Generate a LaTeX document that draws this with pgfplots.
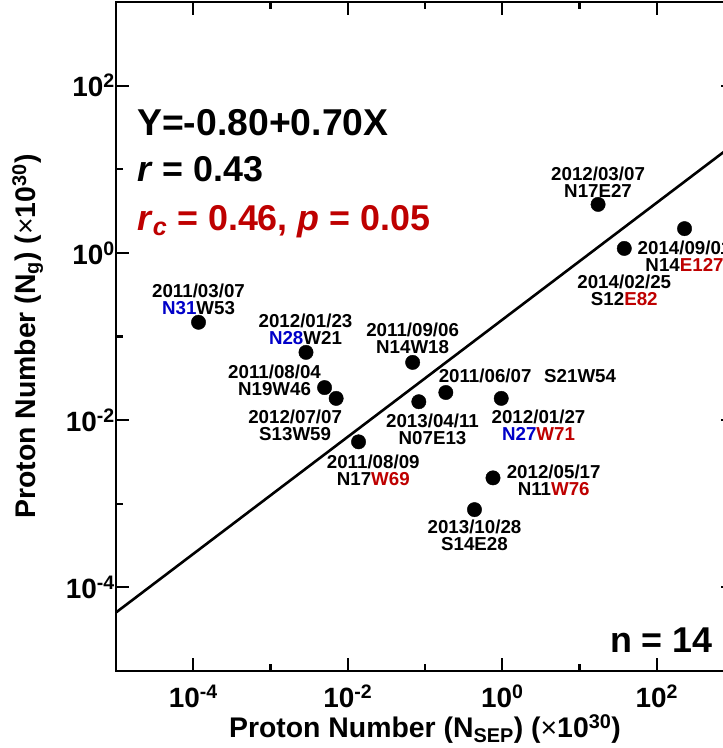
\documentclass[border=0pt]{standalone}
\usepackage{pgfplots}
\pgfplotsset{compat=1.18}
\usepackage{fontspec}
\setmainfont{Liberation Sans}
\definecolor{myred}{RGB}{190,0,0}
\definecolor{myblue}{RGB}{0,0,200}
\newcommand{\labfont}{\fontsize{18.8}{17}\selectfont\bfseries}
\newcommand{\tkfont}{\fontsize{28}{28}\selectfont\bfseries}
\newcommand{\axfont}{\fontsize{28.5}{28.5}\selectfont\bfseries}
\begin{document}
\begin{tikzpicture}
\begin{axis}[
  at={(0,0)}, anchor=south west,
  scale only axis, width=618bp, height=669bp,
  xmode=log, ymode=log,
  xmin=1e-5, xmax=1e3, ymin=1e-5, ymax=1e3,
  axis line style={line width=2.6bp},
  every tick/.style={line width=2.2bp, black},
  tick align=inside,
  major tick length=13bp, minor tick length=7bp,
  xtick={1e-4,1e-2,1,1e2},
  xticklabels={10\textsuperscript{-4},10\textsuperscript{-2},10\textsuperscript{0},10\textsuperscript{2}},
  minor xtick={1e-3,1e-1,1e1},
  ytick={1e-4,1e-2,1,1e2},
  yticklabels={10\textsuperscript{-4},10\textsuperscript{-2},10\textsuperscript{0},10\textsuperscript{2}},
  minor ytick={1e-3,1e-1,1e1},
  xticklabel style={font=\tkfont, inner sep=0pt, yshift=-14bp},
  yticklabel style={font=\tkfont, inner sep=0pt, xshift=-1bp},
  xlabel={Proton Number (N\textsubscript{SEP}) ({\mdseries ×}10\textsuperscript{30})},
  ylabel={Proton Number (N\textsubscript{g}) ({\mdseries ×}10\textsuperscript{30})},
  xlabel style={font=\axfont, at={(axis description cs:0.5,-0.0987)}, anchor=base, inner sep=0pt},
  ylabel style={font=\axfont, at={(axis description cs:-0.131,0.5)}, anchor=base, inner sep=0pt},
  clip=false,
]
\addplot[black, line width=2.6bp] coordinates {(1e-5,5.012e-5) (1e3,19.95)};
\addplot[only marks, mark=*, mark size=7.2bp, black] coordinates {
  (1.17e-4,0.148)
  (2.88e-3,0.0646)
  (5.01e-3,0.0245)
  (7.08e-3,0.0182)
  (0.0138,5.50e-3)
  (0.0692,0.0490)
  (0.0832,0.0166)
  (0.186,0.0214)
  (0.970,0.0182)
  (0.759,2.04e-3)
  (0.437,8.51e-4)
  (17.4,3.80)
  (38.0,1.13)
  (229,1.95)
};
\tikzset{lab/.style={font=\labfont, align=center, inner sep=0pt}}
\node[lab, xshift=0bp, yshift=22.7bp] at (axis cs:1.17e-4,0.148) {2011/03/07\\\textcolor{myblue}{N31}W53};
\node[lab, xshift=-0.5bp, yshift=22.7bp] at (axis cs:2.88e-3,0.0646) {2012/01/23\\\textcolor{myblue}{N28}W21};
\node[lab, xshift=-50bp, yshift=7bp] at (axis cs:5.01e-3,0.0245) {2011/08/04\\N19W46};
\node[lab, xshift=-41bp, yshift=-26.7bp] at (axis cs:7.08e-3,0.0182) {2012/07/07\\S13W59};
\node[lab, xshift=14.7bp, yshift=-28bp] at (axis cs:0.0138,5.50e-3) {2011/08/09\\N17\textcolor{myred}{W69}};
\node[lab, xshift=0bp, yshift=23.7bp] at (axis cs:0.0692,0.0490) {2011/09/06\\N14W18};
\node[lab, xshift=13.7bp, yshift=-27.8bp] at (axis cs:0.0832,0.0166) {2013/04/11\\N07E13};
\node[lab, xshift=39.3bp, yshift=16.7bp] at (axis cs:0.186,0.0214) {2011/06/07};
\node[lab, xshift=134.3bp, yshift=16.7bp] at (axis cs:0.186,0.0214) {S21W54};
\node[lab, xshift=37.3bp, yshift=-26.8bp] at (axis cs:0.970,0.0182) {2012/01/27\\\textcolor{myblue}{N27}\textcolor{myred}{W71}};
\node[lab, xshift=60.7bp, yshift=-2.8bp] at (axis cs:0.759,2.04e-3) {2012/05/17\\N11\textcolor{myred}{W76}};
\node[lab, xshift=0bp, yshift=-26bp] at (axis cs:0.437,8.51e-4) {2013/10/28\\S14E28};
\node[lab, xshift=0bp, yshift=22.5bp] at (axis cs:17.4,3.80) {2012/03/07\\N17E27};
\node[lab, xshift=0bp, yshift=-41.8bp] at (axis cs:38.0,1.13) {2014/02/25\\S12\textcolor{myred}{E82}};
\node[lab, xshift=0bp, yshift=-27.2bp] at (axis cs:229,1.95) {2014/09/01\\N14\textcolor{myred}{E127}};
\node[anchor=base west, inner sep=0pt, font=\fontsize{37.5}{40}\selectfont\bfseries] at (axis description cs:0.034,0.801) {Y=-0.80+0.70X};
\node[anchor=base west, inner sep=0pt, font=\fontsize{36}{40}\selectfont\bfseries] at (axis description cs:0.034,0.731) {\textit{r} = 0.43};
\node[anchor=base west, inner sep=0pt, font=\fontsize{36}{40}\selectfont\bfseries, text=myred] at (axis description cs:0.034,0.659) {\textit{r}\textsubscript{\textit{c}} = 0.46, \textit{p} = 0.05};
\node[anchor=base east, inner sep=0pt, font=\fontsize{36}{40}\selectfont\bfseries] at (axis description cs:0.966,0.0284) {n = 14};
\end{axis}
\pgfresetboundingbox
\useasboundingbox (-116bp,-77bp) rectangle (607bp,671bp);
\end{tikzpicture}
\end{document}
